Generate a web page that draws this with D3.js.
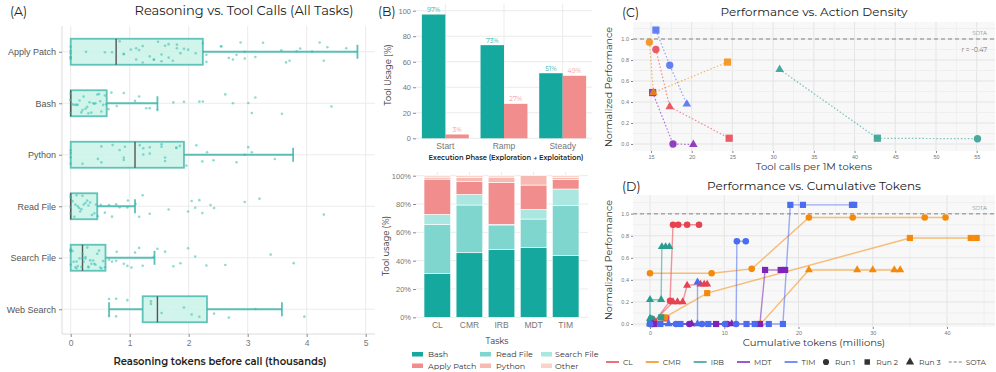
<!DOCTYPE html>
<html>
<head>
<meta charset="utf-8">
<script src="https://cdn.jsdelivr.net/npm/d3@7"></script>
<style>
  body { margin: 0; background: #fff; }
  svg { display: block; font-family: Montserrat, "Open Sans", sans-serif; }
</style>
</head>
<body>
<svg id="chart" width="996" height="372"></svg>
<script>
// ---------- panel A data (thousands of reasoning tokens) ----------
var tools = ["Apply Patch", "Bash", "Python", "Read File", "Search File", "Web Search"];
var boxQ1 = [0, 0, 0, 0, 0, 1.22];
var boxMedian = [0.77, 0, 1.09, 0, 0.20, 1.47];
var boxQ3 = [2.24, 0.61, 1.92, 0.45, 0.59, 2.31];
var whiskerLo = [0, 0, 0, 0, 0, 0.65];
var whiskerHi = [4.86, 1.47, 3.77, 1.09, 1.42, 3.58];

var ptsApplyPatch = [0, 0, 0, 0, 0, 0, 0.26, 0.58, 0.70, 0.83, 0.90, 0.90, 1.02, 1.11, 1.11, 1.16, 1.22, 1.22, 1.34, 1.41,
  1.41, 1.48, 1.54, 1.54, 1.60, 1.66, 1.66, 1.73, 1.80, 1.80, 1.86, 1.92, 1.99, 2.12, 2.24, 2.30, 2.30, 2.55, 2.55, 2.68,
  2.75, 2.81, 2.88, 2.95, 2.95, 3.13, 3.26, 3.57, 3.65, 3.71, 3.83, 3.89, 4.09, 4.22, 4.29, 4.35, 4.67];
var ptsBash = [0, 0, 0, 0, 0.02, 0.05, 0.08, 0.10, 0.12, 0.15, 0.18, 0.20, 0.22, 0.25, 0.28, 0.30, 0.32, 0.35, 0.38, 0.40,
  0.42, 0.45, 0.48, 0.50, 0.52, 0.55, 0.58, 0.60, 0.64, 0.69, 0.78, 0.90, 1.09, 1.16, 1.28, 1.34, 1.47, 1.74, 1.92, 2.18,
  2.24, 2.62, 2.75, 3.01, 3.07, 3.13, 3.58, 4.42];
var ptsPython = [0, 0, 0, 0, 0.20, 0.46, 0.52, 0.52, 0.71, 0.83, 0.90, 0.90, 0.92, 1.17, 1.23, 1.23, 1.34, 1.34, 1.54, 1.54,
  1.60, 1.60, 1.79, 1.79, 1.85, 1.96, 2.13, 2.23, 2.31, 2.42, 2.81, 2.95, 3.01, 3.07, 3.46];
var ptsReadFile = [0, 0, 0, 0, 0.03, 0.06, 0.08, 0.10, 0.12, 0.14, 0.16, 0.18, 0.20, 0.22, 0.25, 0.28, 0.30, 0.33, 0.36, 0.40,
  0.43, 0.46, 0.51, 0.58, 0.65, 0.70, 0.77, 0.83, 0.96, 0.97, 1.10, 1.16, 1.22, 1.34, 1.66, 1.99, 2.05, 2.11, 2.18, 2.23,
  2.37, 2.43, 2.95, 3.20, 4.29];
var ptsSearchFile = [0, 0, 0, 0, 0.03, 0.05, 0.08, 0.10, 0.10, 0.12, 0.15, 0.18, 0.20, 0.20, 0.22, 0.25, 0.25, 0.28, 0.30, 0.30,
  0.33, 0.35, 0.38, 0.40, 0.42, 0.45, 0.48, 0.50, 0.52, 0.55, 0.58, 0.65, 0.70, 0.77, 0.78, 0.90, 0.96, 1.03, 1.09, 1.16,
  1.22, 1.41, 1.47, 1.60, 1.74, 1.86, 1.99, 2.11, 2.30, 2.62, 3.39, 3.78];
var ptsWebSearch = [0.65, 0.65, 0.77, 0.77, 0.96, 1.36, 1.36, 1.54, 1.92, 2.05, 2.18, 2.43, 2.68, 3.13, 3.96];
var ptsByTool = [ptsApplyPatch, ptsBash, ptsPython, ptsReadFile, ptsSearchFile, ptsWebSearch];

// ---------- panel B data ----------
var phases = ["Start", "Ramp", "Steady"];
var explorationPct = [97, 73, 51];
var exploitationPct = [3, 27, 49];

var tasks = ["CL", "CMR", "IRB", "MDT", "TIM"];
var toolCats = ["Bash", "Read File", "Search File", "Apply Patch", "Python", "Other"];
var bashPct = [31, 45.6, 48, 49.2, 43.5];
var readFilePct = [34.6, 33.7, 17.2, 20.2, 35.3];
var searchFilePct = [7.1, 7.5, 0.4, 6.8, 11.8];
var applyPatchPct = [24.9, 9, 29.7, 17.2, 6.8];
var pythonPct = [1.4, 2.8, 3.7, 6.6, 1.4];
var otherPct = [1, 1.4, 1, 0, 1.2];

// ---------- panel C data (run 1, run 2, run 3) ----------
var runs = ["Run 1", "Run 2", "Run 3"];
var clCalls = [15.6, 24.6, 17.3], clPerf = [0.90, 0.055, 0.355];
var cmrCalls = [14.8, 24.4, 15.3], cmrPerf = [0.97, 0.78, 0.49];
var irbCalls = [55.1, 42.8, 30.8], irbPerf = [0.05, 0.055, 0.71];
var mdtCalls = [17.7, 15.2, 20.2], mdtPerf = [0.0, 0.49, -0.005];
var timCalls = [17.3, 15.6, 19.4], timPerf = [0.75, 1.085, 0.38];
var correlation = -0.47;

// ---------- panel D data: [cumulative tokens (M), performance] ----------
var clRun1 = [[0.6, 0.02], [2.7, 0.21], [3.1, 0.90], [3.8, 0.90], [5.0, 0.90], [6.6, 0.90]];
var clRun2 = [[0.6, 0.0], [2.2, 0.05]];
var clRun3 = [[0.6, 0.03], [3.1, 0.20], [3.7, 0.20], [4.4, 0.20], [5.0, 0.35], [6.8, 0.36], [7.3, 0.36], [7.7, 0.36]];
var cmrRun1 = [[0, 0.46], [8.3, 0.46], [13.7, 0.50], [21.4, 0.965], [27.3, 0.965], [37.0, 0.965], [39.8, 0.965]];
var cmrRun2 = [[2.0, 0.06], [7.7, 0.28], [35.0, 0.78], [43.2, 0.78], [44.0, 0.78]];
var cmrRun3 = [[14.9, 0.0], [21.4, 0.49], [27.9, 0.49], [30.0, 0.49], [32.9, 0.49], [33.7, 0.49]];
var irbRun1 = [[0, 0.0], [0.2, 0.05]];
var irbRun2 = [[0, 0.01], [1.5, 0.06]];
var irbRun3 = [[0, 0.05], [0, 0.22], [1.5, 0.22], [1.6, 0.70], [2.1, 0.70], [2.6, 0.70]];
var mdtRun1 = [[0.3, 0], [5.3, 0], [10.4, 0]];
var mdtRun2 = [[0.5, 0], [8.9, 0], [14.8, 0], [15.5, 0.49], [17.6, 0.49], [18.2, 0.49]];
var mdtRun3 = [[0.4, 0], [5.6, 0], [11.0, 0]];
var timRun1 = [[0, 0], [3.5, 0], [7.0, 0], [10.1, 0], [11.6, 0], [11.7, 0.75], [12.9, 0.75]];
var timRun2 = [[1.4, 0], [4.1, 0], [7.85, 0], [13.0, 0], [14.1, 0], [16.0, 0], [17.9, 0], [18.9, 1.08], [20.6, 1.08], [27.2, 1.08], [27.5, 1.08]];
var timRun3 = [[0, 0], [2.5, 0], [6.4, 0], [6.4, 0.38]];
var sota = 1.0;

// ---------- styles ----------
var teal = "#14a89e";
var pink = "#f28d8d";
var catColors = ["#14a89e", "#7ed6cf", "#aae7e1", "#f28d8d", "#f8b9b3", "#fbd2c8"];
var taskColors = ["#e8414f", "#f58a0a", "#2a9d8f", "#7e22b8", "#4a6cf0"];
var runSymbols = [d3.symbolCircle, d3.symbolSquare, d3.symbolTriangle];
var gridColor = "#ebebeb";

var svg = d3.select("#chart");

function styleAxis(g, size) {
  g.select(".domain").remove();
  g.selectAll(".tick line").attr("stroke", "#888");
  g.selectAll(".tick text").attr("fill", "#777").style("font-size", size + "px");
}

function label(g, x, y, txt, size, opts) {
  opts = opts || {};
  var t = g.append("text").attr("x", x).attr("y", y).text(txt)
    .style("font-size", size + "px")
    .attr("fill", opts.fill || "#222")
    .attr("text-anchor", opts.anchor || "start");
  if (opts.weight) t.style("font-weight", opts.weight);
  if (opts.rotate) t.attr("transform", "rotate(-90," + x + "," + y + ")");
  return t;
}

// deterministic spread for the jittered dots (hash of index)
function jit(i, k) {
  var h = Math.sin((i + 1) * 12.9898 + (k + 1) * 78.233) * 43758.5453;
  return (h - Math.floor(h)) * 2 - 1;
}

// =================== Panel A ===================
var gA = svg.append("g");
var xA = d3.scaleLinear().domain([0, 5]).range([70.7, 365.7]);
var yA = d3.scalePoint().domain(tools).range([26, 335]).padding(0.5);

gA.selectAll(".vg").data(xA.ticks(5)).enter().append("line")
  .attr("x1", d => xA(d)).attr("x2", d => xA(d)).attr("y1", 26).attr("y2", 334)
  .attr("stroke", gridColor);
gA.selectAll(".hg").data(tools).enter().append("line")
  .attr("x1", 62).attr("x2", 375).attr("y1", d => yA(d)).attr("y2", d => yA(d))
  .attr("stroke", gridColor);
gA.append("line").attr("x1", 62).attr("x2", 375).attr("y1", 334).attr("y2", 334).attr("stroke", "#dcdcdc");
gA.append("line").attr("x1", 62).attr("x2", 62).attr("y1", 26).attr("y2", 334).attr("stroke", "#dcdcdc");

gA.append("g").attr("transform", "translate(0,334)")
  .call(d3.axisBottom(xA).ticks(5).tickSize(3).tickPadding(3))
  .call(styleAxis, 8.5);
gA.append("g").attr("transform", "translate(62,0)")
  .call(d3.axisLeft(yA).tickSize(3).tickPadding(3))
  .call(styleAxis, 9)
  .call(g => g.selectAll(".tick text").attr("fill", "#555"));

var boxH = 26;
tools.forEach(function(t, i) {
  var cy = yA(t);
  var b = gA.append("g");
  // whiskers
  b.append("line").attr("x1", xA(boxQ3[i])).attr("x2", xA(whiskerHi[i])).attr("y1", cy).attr("y2", cy)
    .attr("stroke", "#3fb5aa").attr("stroke-width", 1.8).attr("stroke-opacity", 0.85);
  b.append("line").attr("x1", xA(whiskerHi[i])).attr("x2", xA(whiskerHi[i])).attr("y1", cy - 7).attr("y2", cy + 7)
    .attr("stroke", "#3fb5aa").attr("stroke-width", 1.8).attr("stroke-opacity", 0.85);
  if (whiskerLo[i] < boxQ1[i]) {
    b.append("line").attr("x1", xA(whiskerLo[i])).attr("x2", xA(boxQ1[i])).attr("y1", cy).attr("y2", cy)
      .attr("stroke", "#3fb5aa").attr("stroke-width", 1.8).attr("stroke-opacity", 0.85);
    b.append("line").attr("x1", xA(whiskerLo[i])).attr("x2", xA(whiskerLo[i])).attr("y1", cy - 7).attr("y2", cy + 7)
      .attr("stroke", "#3fb5aa").attr("stroke-width", 1.8).attr("stroke-opacity", 0.85);
  }
  // box
  b.append("rect").attr("x", xA(boxQ1[i])).attr("y", cy - boxH / 2)
    .attr("width", xA(boxQ3[i]) - xA(boxQ1[i])).attr("height", boxH)
    .attr("fill", "#c9f2e8").attr("fill-opacity", 0.85)
    .attr("stroke", "#3fb5aa").attr("stroke-opacity", 0.8).attr("stroke-width", 1.8);
  b.append("line").attr("x1", xA(boxMedian[i])).attr("x2", xA(boxMedian[i]))
    .attr("y1", cy - boxH / 2).attr("y2", cy + boxH / 2)
    .attr("stroke", "#555").attr("stroke-width", 1.4);
  // jittered points
  b.selectAll("circle").data(ptsByTool[i]).enter().append("circle")
    .attr("cx", d => xA(d))
    .attr("cy", (d, j) => cy + jit(j, i) * 11)
    .attr("r", 1.3)
    .attr("fill", "#34bcae").attr("fill-opacity", 0.55);
});

label(gA, 10, 16, "(A)", 12.5, { fill: "#222" });
label(gA, 244, 15, "Reasoning vs. Tool Calls (All Tasks)", 13, { anchor: "middle", weight: 400 });
label(gA, 220, 365, "Reasoning tokens before call (thousands)", 10, { anchor: "middle", weight: 600 });

// =================== Panel B (top) ===================
var gB = svg.append("g");
var xB = d3.scaleBand().domain(phases).range([416, 592]).paddingInner(0.2).paddingOuter(0.1);
var xBin = d3.scaleBand().domain(["exploration", "exploitation"]).range([0, xB.bandwidth()]);
var yB = d3.scaleLinear().domain([0, 100]).range([138.3, 10.7]);

gB.selectAll(".hg").data(yB.ticks(4)).enter().append("line")
  .attr("x1", 416).attr("x2", 592).attr("y1", d => yB(d)).attr("y2", d => yB(d)).attr("stroke", gridColor);
gB.selectAll(".vg").data(phases).enter().append("line")
  .attr("x1", d => xB(d) + xB.bandwidth() / 2).attr("x2", d => xB(d) + xB.bandwidth() / 2)
  .attr("y1", 4).attr("y2", 140).attr("stroke", gridColor);

var barRows = phases.map((p, i) => ({ phase: p, exploration: explorationPct[i], exploitation: exploitationPct[i] }));
["exploration", "exploitation"].forEach(function(k) {
  var col = k === "exploration" ? teal : pink;
  var lab = k === "exploration" ? "#2ab3a8" : "#f29b98";
  gB.selectAll(".bar-" + k).data(barRows).enter().append("rect")
    .attr("x", d => xB(d.phase) + xBin(k)).attr("width", xBin.bandwidth())
    .attr("y", d => yB(d[k])).attr("height", d => yB(0) - yB(d[k]))
    .attr("fill", col);
  gB.selectAll(".lab-" + k).data(barRows).enter().append("text")
    .attr("x", d => xB(d.phase) + xBin(k) + xBin.bandwidth() / 2)
    .attr("y", d => yB(d[k]) - 2.5)
    .attr("text-anchor", "middle").style("font-size", "6.5px").attr("fill", lab)
    .text(d => d[k] + "%");
});

gB.append("g").attr("transform", "translate(0,140)")
  .call(d3.axisBottom(xB).tickSize(0).tickPadding(3))
  .call(styleAxis, 8.5);
gB.append("g").attr("transform", "translate(416,0)")
  .call(d3.axisLeft(yB).ticks(4).tickSize(3).tickPadding(2))
  .call(styleAxis, 7.5);

label(gB, 378, 16, "(B)", 12.5);
label(gB, 506, 160, "Execution Phase (Exploration \u2192 Exploitation)", 6.8, { anchor: "middle", weight: 600 });
label(gB, 391, 75, "Tool Usage (%)", 8.5, { anchor: "middle", rotate: true, fill: "#333" });

// =================== Panel B (bottom) ===================
var xS = d3.scaleBand().domain(tasks).range([416, 587]).paddingInner(0.17).paddingOuter(0.25);
var yS = d3.scaleLinear().domain([0, 100]).range([317.3, 175.7]);

gB.selectAll(".hg2").data(yS.ticks(4)).enter().append("line")
  .attr("x1", 416).attr("x2", 588).attr("y1", d => yS(d)).attr("y2", d => yS(d)).attr("stroke", gridColor);
gB.selectAll(".vg2").data(tasks).enter().append("line")
  .attr("x1", d => xS(d) + xS.bandwidth() / 2).attr("x2", d => xS(d) + xS.bandwidth() / 2)
  .attr("y1", 172).attr("y2", 319).attr("stroke", gridColor);

var catArrays = [bashPct, readFilePct, searchFilePct, applyPatchPct, pythonPct, otherPct];
var stackRows = tasks.map(function(t, i) {
  var row = { task: t };
  toolCats.forEach((c, j) => { row[c] = catArrays[j][i]; });
  return row;
});
var stacked = d3.stack().keys(toolCats)(stackRows);
gB.selectAll(".layer").data(stacked).enter().append("g")
  .attr("fill", (d, i) => catColors[i])
  .selectAll("rect").data(d => d).enter().append("rect")
  .attr("x", d => xS(d.data.task)).attr("width", xS.bandwidth())
  .attr("y", d => yS(d[1])).attr("height", d => yS(d[0]) - yS(d[1]))
  .attr("stroke", "#fff").attr("stroke-width", 0.6);

gB.append("g").attr("transform", "translate(0,319)")
  .call(d3.axisBottom(xS).tickSize(0).tickPadding(3))
  .call(styleAxis, 8.5);
gB.append("g").attr("transform", "translate(416,0)")
  .call(d3.axisLeft(yS).ticks(4).tickFormat(d => d + "%").tickSize(3).tickPadding(2))
  .call(styleAxis, 7.5);

label(gB, 389, 246, "Tool usage (%)", 8.5, { anchor: "middle", rotate: true, fill: "#333" });
label(gB, 497, 344, "Tasks", 8.5, { anchor: "middle", fill: "#333" });

// legend
var legX = [412, 480, 541];
var legLabX = [428, 496, 555];
var legY = [354, 365.5];
var legOrder = ["Bash", "Read File", "Search File", "Apply Patch", "Python", "Other"];
legOrder.forEach(function(c, i) {
  var col = i % 3, row = Math.floor(i / 3);
  gB.append("rect").attr("x", legX[col]).attr("y", legY[row] - 2).attr("width", 11).attr("height", 4.5)
    .attr("fill", catColors[toolCats.indexOf(c)]);
  label(gB, legLabX[col], legY[row] + 3, c, 8, { fill: "#333" });
});

// =================== Panel C ===================
var gC = svg.append("g");
var xC = d3.scaleLinear().domain([15, 55]).range([651, 976.7]);
var yC = d3.scaleLinear().domain([0, 1]).range([144, 39]);
var cL = 633, cR = 995, cT = 22, cB = 151;

gC.append("rect").attr("x", cL).attr("y", cT).attr("width", cR - cL).attr("height", cB - cT).attr("fill", "#f8f8f8");
gC.selectAll(".vg").data(d3.range(12.5, 57.6, 2.5).filter(v => xC(v) > cL && xC(v) < cR)).enter().append("line")
  .attr("x1", d => xC(d)).attr("x2", d => xC(d)).attr("y1", cT).attr("y2", cB)
  .attr("stroke", (d) => d % 5 === 0 ? "#e4e4e4" : "#efefef");
gC.selectAll(".hg").data(d3.range(0, 1.11, 0.1)).enter().append("line")
  .attr("x1", cL).attr("x2", cR).attr("y1", d => yC(d)).attr("y2", d => yC(d))
  .attr("stroke", (d, i) => i % 2 === 0 ? "#e4e4e4" : "#efefef");

gC.append("line").attr("x1", cL).attr("x2", cR).attr("y1", yC(sota)).attr("y2", yC(sota))
  .attr("stroke", "#a6a6a6").attr("stroke-width", 1.4).attr("stroke-dasharray", "4,3");
label(gC, 987, 35, "SOTA", 5.5, { anchor: "end", fill: "#888" });
label(gC, 987, 52, "r = " + correlation.toFixed(2), 6.5, { anchor: "end", fill: "#777" });

var callArrays = [clCalls, cmrCalls, irbCalls, mdtCalls, timCalls];
var perfArrays = [clPerf, cmrPerf, irbPerf, mdtPerf, timPerf];
// draw MDT first so the CMR triangle sits on top of it, as in the source
var drawOrder = [3, 0, 2, 4, 1];
drawOrder.forEach(function(ti) {
  var pts = runs.map((r, ri) => ({ run: ri, x: callArrays[ti][ri], y: perfArrays[ti][ri] }));
  var sorted = pts.slice().sort((a, b) => a.x - b.x);
  gC.append("path").datum(sorted)
    .attr("d", d3.line().x(d => xC(d.x)).y(d => yC(d.y)))
    .attr("fill", "none").attr("stroke", taskColors[ti]).attr("stroke-width", 1.2)
    .attr("stroke-opacity", 0.6).attr("stroke-dasharray", "1.5,2");
});
drawOrder.forEach(function(ti) {
  runs.forEach(function(r, ri) {
    var sizeC = [42, 52, 32][ri];
    gC.append("path")
      .attr("d", d3.symbol().type(runSymbols[ri]).size(sizeC)())
      .attr("transform", "translate(" + xC(callArrays[ti][ri]) + "," + yC(perfArrays[ti][ri]) + ")")
      .attr("fill", taskColors[ti]).attr("fill-opacity", 0.85);
  });
});

gC.append("g").attr("transform", "translate(0," + cB + ")")
  .call(d3.axisBottom(xC).tickValues(d3.range(15, 56, 5)).tickSize(2).tickPadding(2))
  .call(styleAxis, 5.5);
gC.append("g").attr("transform", "translate(" + cL + ",0)")
  .call(d3.axisLeft(yC).tickValues(d3.range(0, 1.01, 0.2)).tickFormat(d3.format(".1f")).tickSize(2).tickPadding(2))
  .call(styleAxis, 5.5);

label(gC, 622, 17, "(C)", 12.5);
label(gC, 814, 16, "Performance vs. Action Density", 12, { anchor: "middle", weight: 400 });
label(gC, 814, 170, "Tool calls per 1M tokens", 10, { anchor: "middle", fill: "#333" });
label(gC, 612, 87, "Normalized Performance", 9.5, { anchor: "middle", rotate: true, fill: "#333" });

// =================== Panel D ===================
var gD = svg.append("g");
var xD = d3.scaleLinear().domain([0, 40]).range([650, 947]);
var yD = d3.scaleLinear().domain([0, 1]).range([324, 213.7]);
var dL = 633, dR = 995, dT = 195, dB = 327;

gD.append("rect").attr("x", dL).attr("y", dT).attr("width", dR - dL).attr("height", dB - dT).attr("fill", "#f8f8f8");
gD.selectAll(".vg").data(d3.range(-5, 46, 5).filter(v => xD(v) > dL && xD(v) < dR)).enter().append("line")
  .attr("x1", d => xD(d)).attr("x2", d => xD(d)).attr("y1", dT).attr("y2", dB)
  .attr("stroke", (d) => d % 10 === 0 ? "#e4e4e4" : "#efefef");
gD.selectAll(".hg").data(d3.range(0, 1.11, 0.1)).enter().append("line")
  .attr("x1", dL).attr("x2", dR).attr("y1", d => yD(d)).attr("y2", d => yD(d))
  .attr("stroke", (d, i) => i % 2 === 0 ? "#e4e4e4" : "#efefef");

gD.append("line").attr("x1", dL).attr("x2", dR).attr("y1", yD(sota)).attr("y2", yD(sota))
  .attr("stroke", "#a6a6a6").attr("stroke-width", 1.4).attr("stroke-dasharray", "4,3");
label(gD, 987, 210, "SOTA", 5.5, { anchor: "end", fill: "#888" });

var runsByTask = [
  [clRun1, clRun2, clRun3],
  [cmrRun1, cmrRun2, cmrRun3],
  [irbRun1, irbRun2, irbRun3],
  [mdtRun1, mdtRun2, mdtRun3],
  [timRun1, timRun2, timRun3]
];
var lineD = d3.line().x(d => xD(d[0])).y(d => yD(d[1]));
runsByTask.forEach(function(taskRuns, ti) {
  taskRuns.forEach(function(series) {
    gD.append("path").datum(series).attr("d", lineD)
      .attr("fill", "none").attr("stroke", taskColors[ti]).attr("stroke-width", 1.4).attr("stroke-opacity", 0.55);
  });
});
runsByTask.forEach(function(taskRuns, ti) {
  taskRuns.forEach(function(series, ri) {
    var sizeD = [34, 38, 28][ri];
    gD.selectAll(null).data(series).enter().append("path")
      .attr("d", d3.symbol().type(runSymbols[ri]).size(sizeD)())
      .attr("transform", d => "translate(" + xD(d[0]) + "," + yD(d[1]) + ")")
      .attr("fill", taskColors[ti]);
  });
});

gD.append("g").attr("transform", "translate(0," + dB + ")")
  .call(d3.axisBottom(xD).tickValues([0, 10, 20, 30, 40]).tickSize(2).tickPadding(2))
  .call(styleAxis, 5.5);
gD.append("g").attr("transform", "translate(" + dL + ",0)")
  .call(d3.axisLeft(yD).tickValues(d3.range(0, 1.01, 0.2)).tickFormat(d3.format(".1f")).tickSize(2).tickPadding(2))
  .call(styleAxis, 5.5);

label(gD, 622, 191, "(D)", 12.5);
label(gD, 814, 190, "Performance vs. Cumulative Tokens", 12, { anchor: "middle", weight: 400 });
label(gD, 814, 346, "Cumulative tokens (millions)", 10, { anchor: "middle", fill: "#333" });
label(gD, 612, 260, "Normalized Performance", 9.5, { anchor: "middle", rotate: true, fill: "#333" });

// legend D: laid out left to right from measured text widths
var legCursor = 606;
tasks.forEach(function(t, i) {
  gD.append("line").attr("x1", legCursor).attr("x2", legCursor + 13).attr("y1", 362).attr("y2", 362)
    .attr("stroke", taskColors[i]).attr("stroke-width", 1.5);
  var tx = label(gD, legCursor + 17, 365, t, 7.5, { fill: "#333" });
  legCursor += 17 + tx.node().getComputedTextLength() + 13;
});
legCursor = 826;
runs.forEach(function(r, i) {
  gD.append("path").attr("d", d3.symbol().type(runSymbols[i]).size(30)())
    .attr("transform", "translate(" + legCursor + ",362)").attr("fill", "#333");
  var tx = label(gD, legCursor + 9, 365, r, 7.5, { fill: "#333" });
  legCursor += 9 + tx.node().getComputedTextLength() + 12;
});
gD.append("line").attr("x1", legCursor - 4).attr("x2", legCursor + 9).attr("y1", 362).attr("y2", 362)
  .attr("stroke", "#a6a6a6").attr("stroke-width", 1.4).attr("stroke-dasharray", "3,2");
label(gD, legCursor + 13, 365, "SOTA", 7.5, { fill: "#333" });
</script>
</body>
</html>
